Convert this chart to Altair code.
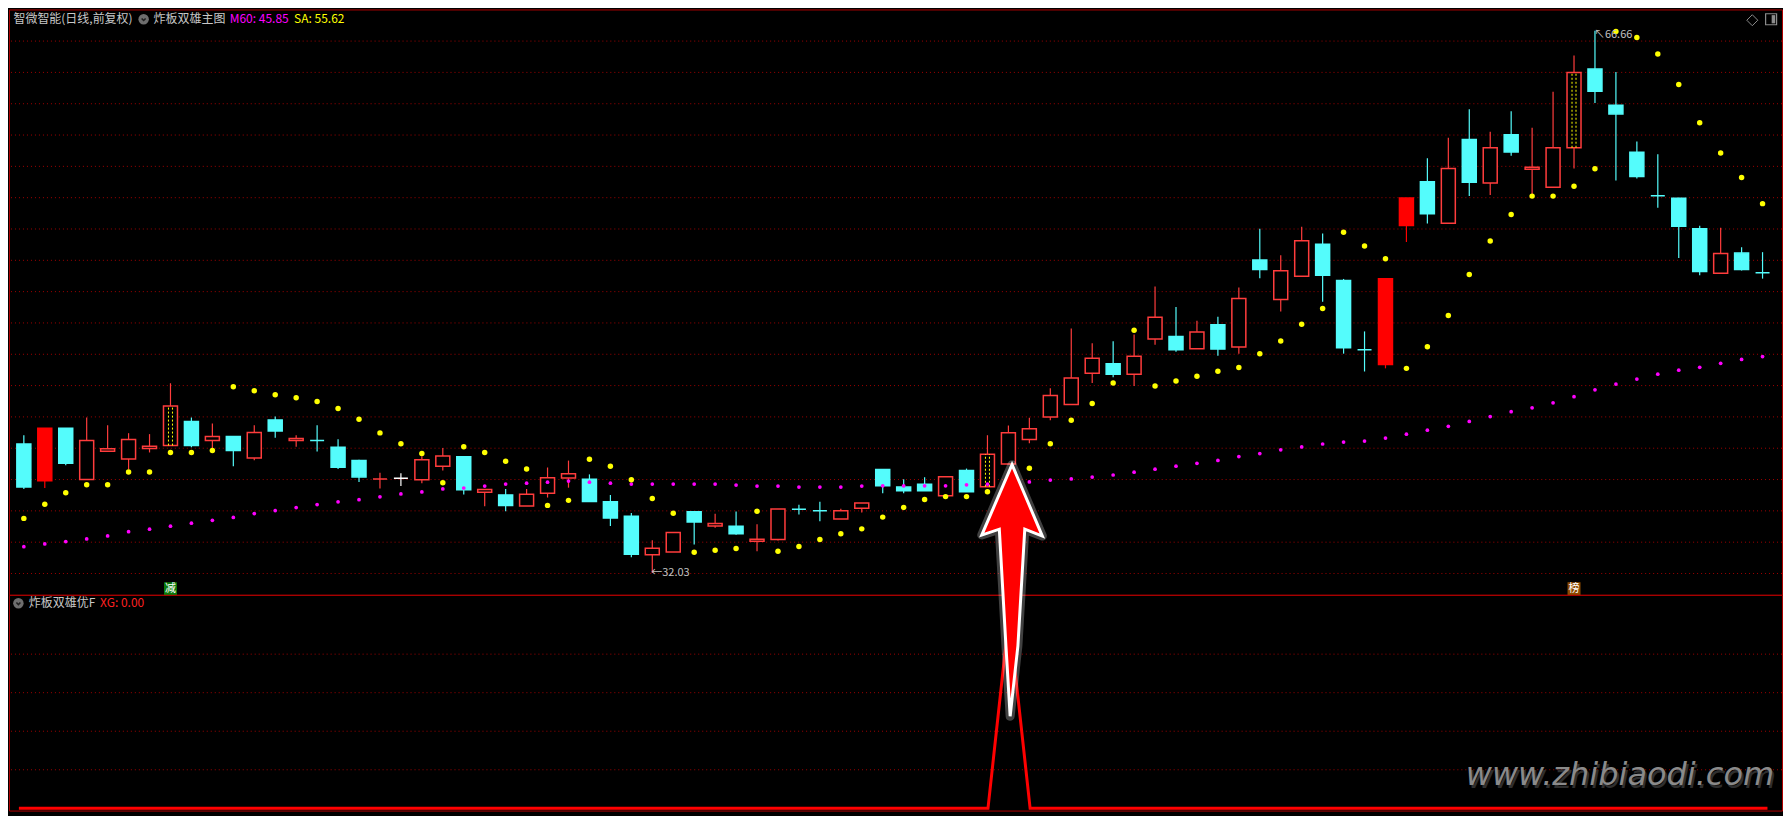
import altair as alt
import pandas as pd

# ---------------- data ----------------
opens = [40.27, 37.92, 41.27, 38.00, 39.81, 39.31, 39.98, 40.17, 41.71, 40.50,
         40.75, 39.37, 41.81, 40.50, 40.50, 40.06, 39.21, 38.04, 38.08, 37.98,
         38.85, 39.46, 37.19, 37.02, 36.31, 37.12, 38.10, 38.02, 36.58, 35.65,
         33.19, 33.37, 35.94, 35.04, 35.02, 34.06, 34.17, 36.10, 36.00, 35.48,
         36.17, 38.64, 37.52, 37.70, 36.97, 38.58, 37.54, 38.99, 40.56, 41.99,
         42.79, 44.79, 45.39, 44.72, 46.97, 47.14, 46.35, 47.89, 46.47, 52.02,
         49.50, 50.98, 53.02, 50.71, 46.29, 45.35, 54.23, 57.02, 54.37, 59.71,
         56.94, 60.02, 57.81, 56.67, 59.19, 64.21, 61.90, 58.90, 56.12, 55.96,
         54.02, 51.17, 52.46, 51.21]
highs = [40.83, 41.27, 41.27, 41.96, 41.46, 40.96, 40.90, 44.15, 41.96, 41.58,
         40.75, 41.46, 42.02, 40.83, 41.46, 40.58, 39.27, 38.44, 38.40, 39.48,
         40.02, 39.46, 37.37, 37.39, 37.39, 38.77, 39.21, 38.33, 37.02, 35.87,
         34.12, 34.62, 35.94, 35.81, 35.96, 35.14, 36.12, 36.39, 36.58, 36.14,
         36.50, 38.64, 38.02, 38.14, 38.18, 38.70, 40.83, 41.45, 41.95, 43.83,
         47.64, 46.70, 46.83, 47.26, 50.33, 49.02, 48.14, 48.39, 50.26, 54.02,
         52.33, 54.15, 53.71, 50.81, 47.46, 50.83, 55.98, 58.52, 59.83, 61.65,
         60.21, 61.52, 60.46, 62.77, 65.08, 66.66, 64.02, 59.58, 58.77, 56.00,
         54.21, 54.08, 52.83, 52.52]
lows = [37.40, 37.46, 38.92, 38.00, 39.81, 38.65, 39.73, 40.17, 40.06, 40.00,
        38.85, 39.23, 40.67, 40.10, 39.79, 38.67, 37.85, 37.42, 37.58, 37.77,
        38.58, 37.04, 36.29, 35.98, 36.31, 36.85, 37.48, 36.60, 35.04, 33.04,
        32.03, 33.37, 33.85, 34.92, 34.48, 33.42, 34.10, 35.77, 35.33, 35.48,
        35.90, 37.12, 37.12, 37.29, 36.97, 37.22, 37.54, 38.99, 40.31, 41.79,
        42.79, 44.16, 44.54, 43.97, 46.60, 46.16, 46.35, 45.91, 46.04, 50.85,
        48.73, 50.98, 49.35, 46.04, 44.90, 45.10, 53.17, 54.35, 54.37, 56.10,
        56.17, 58.67, 56.10, 56.67, 57.87, 62.04, 57.10, 57.23, 55.35, 52.15,
        51.04, 51.17, 51.35, 50.83]
closes = [37.52, 41.27, 39.04, 40.50, 39.96, 40.56, 40.12, 42.69, 40.17, 40.75,
          39.85, 41.00, 41.10, 40.62, 40.50, 38.79, 38.17, 38.04, 38.08, 39.27,
          39.50, 37.35, 37.37, 36.35, 37.06, 38.12, 38.37, 36.60, 35.54, 33.23,
          33.62, 34.62, 35.29, 35.19, 34.54, 34.19, 36.12, 36.10, 36.00, 36.00,
          36.50, 37.60, 37.29, 37.29, 38.18, 37.22, 39.62, 40.99, 41.24, 43.37,
          44.49, 45.74, 44.72, 45.87, 48.37, 46.29, 47.43, 46.33, 49.56, 51.42,
          51.33, 53.25, 51.04, 46.42, 46.29, 50.83, 55.98, 54.98, 57.87, 56.98,
          59.19, 58.92, 57.94, 59.19, 64.00, 62.79, 61.35, 57.35, 56.12, 54.17,
          51.29, 52.44, 51.42, 51.21]
kinds = ["down", "solid", "down", "up", "up", "up", "up", "dash", "down", "up",
         "down", "up", "down", "up", "down", "down", "down", "up", "flat", "up",
         "up", "down", "up", "down", "up", "up", "up", "down", "down", "down",
         "up", "up", "down", "up", "down", "up", "up", "down", "down", "up",
         "up", "down", "down", "down", "up", "down", "dash", "up", "up", "up",
         "up", "up", "down", "up", "up", "down", "up", "down", "up", "down",
         "up", "up", "down", "down", "down", "solid", "solid", "down", "up", "down",
         "up", "down", "up", "up", "dash", "down", "down", "down", "down", "down",
         "down", "up", "down", "down"]
sa = [35.52, 36.42, 37.15, 37.67, 37.67, 38.48, 38.48, 39.73, 39.73, 39.85,
      43.92, 43.67, 43.42, 43.23, 42.98, 42.54, 41.85, 40.98, 40.29, 39.67,
      37.79, 40.10, 39.73, 39.17, 38.67, 36.35, 36.67, 39.29, 38.85, 37.98,
      36.79, 35.85, 33.35, 33.48, 33.60, 35.98, 33.42, 33.73, 34.17, 34.54,
      34.85, 35.60, 36.22, 36.72, 36.91, 36.91, 37.22, 37.95, 38.72, 40.29,
      41.79, 42.85, 44.16, 47.54, 43.97, 44.29, 44.60, 44.91, 45.16, 46.04,
      46.85, 47.92, 48.92, 53.79, 52.92, 52.10, 45.10, 46.48, 48.48, 51.10,
      53.23, 54.92, 56.10, 56.10, 56.73, 57.85, 66.62, 66.23, 65.17, 63.23,
      60.79, 58.85, 57.29, 55.62]
m60 = [33.71, 33.89, 34.04, 34.21, 34.40, 34.67, 34.83, 35.02, 35.21, 35.40,
       35.58, 35.83, 36.02, 36.21, 36.40, 36.58, 36.71, 36.90, 37.08, 37.21,
       37.40, 37.46, 37.58, 37.71, 37.77, 37.83, 37.90, 37.83, 37.77, 37.71,
       37.71, 37.71, 37.71, 37.71, 37.65, 37.58, 37.58, 37.52, 37.52, 37.52,
       37.58, 37.60, 37.60, 37.60, 37.60, 37.66, 37.70, 37.75, 37.85, 37.97,
       38.04, 38.16, 38.29, 38.47, 38.66, 38.85, 39.04, 39.22, 39.47, 39.66,
       39.90, 40.08, 40.27, 40.39, 40.46, 40.65, 40.90, 41.15, 41.40, 41.71,
       42.02, 42.33, 42.58, 42.90, 43.29, 43.73, 44.10, 44.42, 44.73, 44.98,
       45.17, 45.42, 45.67, 45.85]
xg = [0] * 84
xg[47] = 1
price_grid = list(range(32, 67, 2))
xg_grid = [0.2, 0.4, 0.6, 0.8]
badge_idx = [7, 74]
badge_txt = ["减", "榜"]

# ---------------- tables ----------------
df = pd.DataFrame({"i": list(range(len(opens))), "o": opens, "h": highs, "l": lows,
                   "c": closes, "k": kinds, "sa": sa, "m60": m60, "xg": xg})
lo = df.loc[[df["l"].idxmin()]].copy()
lo["lab"] = lo["l"].map(lambda v: "←" + format(v, ".2f"))
hi = df.loc[[df["h"].idxmax()]].copy()
hi["lab"] = hi["h"].map(lambda v: "↖" + format(v, ".2f"))
badges = pd.DataFrame({"i": badge_idx, "t": badge_txt})
one = pd.DataFrame({"a": [0]})

CJK = "Noto Sans CJK SC"
W = 1775
HM = 586
HS = 216
SX = W / 1791.0
SY = (HM + HS) / 818.0

X = alt.X("i:Q", scale=alt.Scale(domain=[-0.47, 83.69], nice=False, zero=False), axis=None)
YP = alt.Scale(domain=[30.64, 68.02], nice=False, zero=False)
YS = alt.Scale(domain=[-0.0117, 1.108], nice=False, zero=False)
KIND = ["up", "down", "solid", "flat", "dash"]
STROKE = ["#ff3c3c", "#54fcfc", "#ff0000", "#ffffff", "#ff3c3c"]
FILL = ["#000000", "#54fcfc", "#ff0000", "#ffffff", "#000000"]
GRID = "#a00000"

base = alt.Chart(df)


def ptxt(txt, x, y, color, size=12, font=CJK, align="left"):
    return alt.Chart(pd.DataFrame({"t": [txt]})).mark_text(
        align=align, baseline="middle", fontSize=size, font=font, color=color
    ).encode(x=alt.value(x * SX), y=alt.value(y * SY), text="t:N")


def icon(x, y):
    c = alt.Chart(one).mark_circle(size=110, color="#6e6e6e", opacity=1).encode(
        x=alt.value(x * SX), y=alt.value(y * SY))
    v = alt.Chart(one).mark_point(shape="M-0.5,-0.2 L0,0.3 L0.5,-0.2", size=64, filled=False,
                                  stroke="#202020", strokeWidth=1.6, opacity=1).encode(
        x=alt.value(x * SX), y=alt.value(y * SY))
    return c + v


# ---------------- main panel ----------------
grid = alt.Chart(pd.DataFrame({"p": price_grid})).mark_rule(
    color=GRID, strokeDash=[1, 3], strokeWidth=1).encode(y=alt.Y("p:Q", scale=YP, axis=None))
wick = base.mark_rule(strokeWidth=1.2).encode(
    x=X, y=alt.Y("l:Q", scale=YP, axis=None), y2="h:Q",
    stroke=alt.Stroke("k:N", scale=alt.Scale(domain=KIND, range=STROKE), legend=None))
body = base.mark_bar(width=14, strokeWidth=1.5, opacity=1).encode(
    x=X, y=alt.Y("o:Q", scale=YP, axis=None), y2="c:Q",
    fill=alt.Fill("k:N", scale=alt.Scale(domain=KIND, range=FILL), legend=None),
    stroke=alt.Stroke("k:N", scale=alt.Scale(domain=KIND, range=STROKE), legend=None))
dash = base.transform_filter("datum.k == 'dash'")
dl = dash.mark_rule(color="#ffff00", strokeDash=[2, 2], strokeWidth=1, xOffset=-2).encode(
    x=X, y=alt.Y("o:Q", scale=YP, axis=None), y2="c:Q")
dr = dash.mark_rule(color="#ffff00", strokeDash=[2, 2], strokeWidth=1, xOffset=2).encode(
    x=X, y=alt.Y("o:Q", scale=YP, axis=None), y2="c:Q")
m60pts = base.mark_circle(size=14, color="#ff00ff", opacity=1).encode(
    x=X, y=alt.Y("m60:Q", scale=YP, axis=None))
sapts = base.mark_circle(size=30, color="#ffff00", opacity=1).encode(
    x=X, y=alt.Y("sa:Q", scale=YP, axis=None))
lowlab = alt.Chart(lo).mark_text(align="left", baseline="middle", fontSize=11, font=CJK,
                                 color="#c0c0c0", dx=-1).encode(
    x=X, y=alt.Y("l:Q", scale=YP, axis=None), text="lab:N")
highlab = alt.Chart(hi).mark_text(align="left", baseline="middle", fontSize=11, font=CJK,
                                  color="#c0c0c0", dx=-1, dy=4).encode(
    x=X, y=alt.Y("h:Q", scale=YP, axis=None), text="lab:N")
badge_layers = []
for t, col in zip(badge_txt, ["#0b7a0b", "#8c4a00"]):
    bd = alt.Chart(badges).transform_filter(alt.datum.t == t)
    badge_layers.append(bd.mark_square(size=169, color=col, opacity=1).encode(
        x=X, y=alt.value(591.5 * SY)))
    badge_layers.append(bd.mark_text(fontSize=11, font=CJK, color="#ffffff",
                                     baseline="middle").encode(
        x=X, y=alt.value(591.5 * SY), text="t:N"))
diam = alt.Chart(one).mark_point(shape="diamond", size=121, filled=False, stroke="#8c8c8c",
                                 strokeWidth=1, opacity=1).encode(
    x=alt.value(1761 * SX), y=alt.value(11 * SY))
sq = alt.Chart(one).mark_point(shape="square", size=121, filled=False, stroke="#8c8c8c",
                               strokeWidth=1.2, opacity=1).encode(
    x=alt.value(1780 * SX), y=alt.value(10 * SY))
sqh = alt.Chart(one).mark_point(shape="M0.1,-0.75 L0.75,-0.75 L0.75,0.75 L0.1,0.75 Z", size=121,
                                filled=True, fill="#8c8c8c", opacity=1).encode(
    x=alt.value(1780 * SX), y=alt.value(10 * SY))

main = alt.layer(
    grid, wick, body, dl, dr, m60pts, sapts, lowlab, highlab, *badge_layers,
    ptxt("智微智能(日线,前复权)", 4.5, 10, "#c8c8c8"),
    icon(136, 10),
    ptxt("炸板双雄主图", 146, 10, "#c8c8c8"),
    ptxt("M60: 45.85", 223, 10, "#ff00ff"),
    ptxt("SA: 55.62", 288, 10, "#ffff00"),
    diam, sq, sqh,
).properties(width=W, height=HM)

# ---------------- sub panel ----------------
sgrid = alt.Chart(pd.DataFrame({"v": xg_grid})).mark_rule(
    color=GRID, strokeDash=[1, 3], strokeWidth=1).encode(y=alt.Y("v:Q", scale=YS, axis=None))
xgline = base.mark_line(color="#ff0000", strokeWidth=3).encode(
    x=X, y=alt.Y("xg:Q", scale=YS, axis=None))
ARROW = ("M0,-0.988 L0.238,-0.427 L0.1,-0.481 L0.046,0.435 L-0.015,0.988 "
         "L-0.048,0.435 L-0.1,-0.481 L-0.238,-0.435 Z")
sig = base.transform_filter("datum.xg > 0")
ASIZE = (260 * SY) ** 2
glow = sig.mark_point(shape=ARROW, size=ASIZE, filled=False, stroke="#ffffff", strokeWidth=9,
                      strokeOpacity=0.25, opacity=1, strokeJoin="round",
                      xOffset=3, yOffset=-25.7 * SY).encode(
    x=X, y=alt.Y("xg:Q", scale=YS, axis=None))
arrow = sig.mark_point(shape=ARROW, size=ASIZE, filled=True, fill="#ff0000", stroke="#ffffff",
                       strokeWidth=3, opacity=1, fillOpacity=1, strokeOpacity=1,
                       strokeJoin="miter", xOffset=3, yOffset=-25.7 * SY).encode(
    x=X, y=alt.Y("xg:Q", scale=YS, axis=None))
WM = "www.zhibiaodi.com"
wm_shadow = alt.Chart(pd.DataFrame({"t": [WM]})).mark_text(
    align="right", baseline="alphabetic", fontSize=32, font="DejaVu Sans", fontStyle="italic",
    color="#2e2e2e", dx=2, dy=3).encode(x=alt.value(1783 * SX), y=alt.value(194.7 * SY), text="t:N")
wm = alt.Chart(pd.DataFrame({"t": [WM]})).mark_text(
    align="right", baseline="alphabetic", fontSize=32, font="DejaVu Sans", fontStyle="italic",
    color="#8a8a8a").encode(x=alt.value(1783 * SX), y=alt.value(194.7 * SY), text="t:N")

sub = alt.layer(
    sgrid, wm_shadow, wm, xgline,
    icon(9.5, 8.7),
    ptxt("炸板双雄优F", 20, 8.7, "#c8c8c8"),
    ptxt("XG: 0.00", 92, 8.7, "#ff2020"),
    glow, arrow,
).properties(width=W, height=HS)

chart = alt.vconcat(main, sub, spacing=0, bounds="flush").properties(
    padding=0,
).configure(background="#000000").configure_view(stroke="#b00000", strokeWidth=1)

chart.save("out.html", embed_options={"renderer": "svg", "actions": False})
